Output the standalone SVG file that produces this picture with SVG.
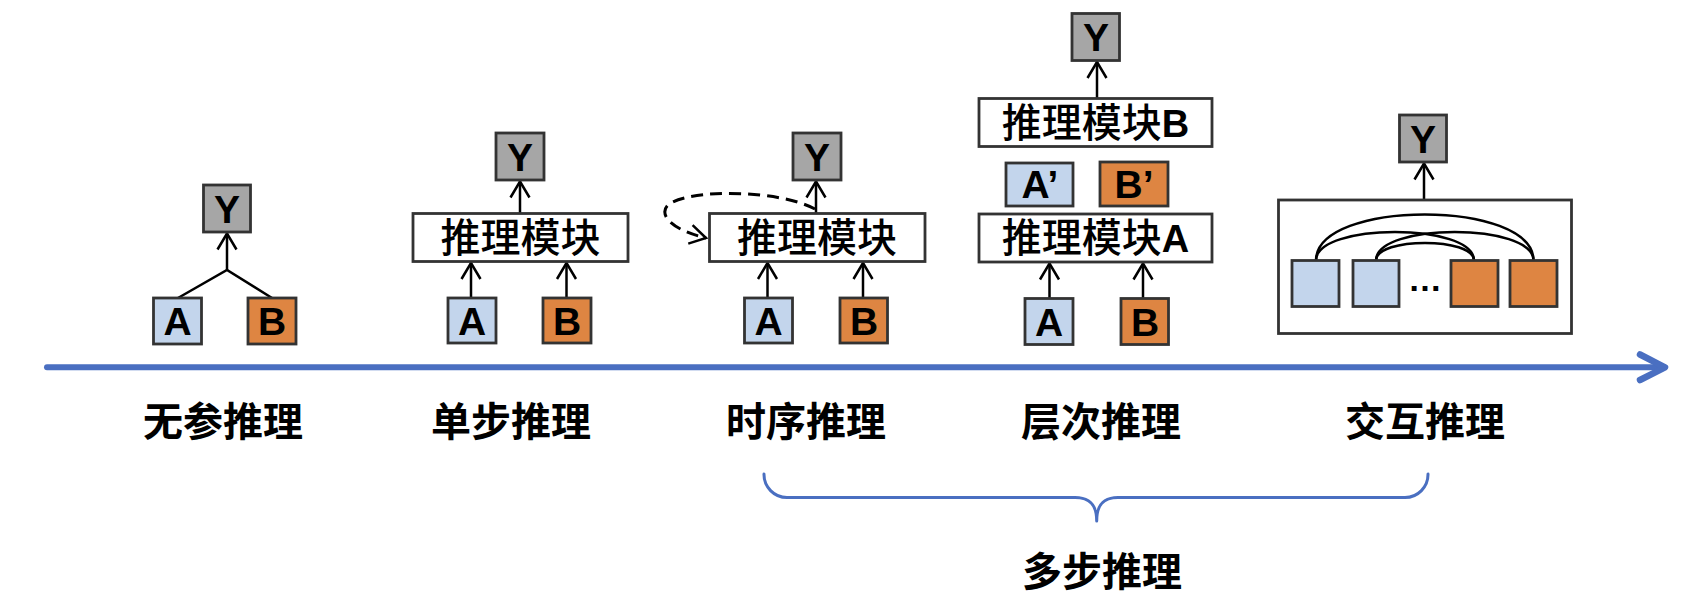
<svg xmlns="http://www.w3.org/2000/svg" width="1696" height="610" viewBox="0 0 1696 610">
<defs>
<style>
.box{stroke:#333333;stroke-width:2.8}
.ya{fill:#A6A6A6}
.ba{fill:#C3D5EC}
.or{fill:#DE8542}
.mod{fill:#FFFFFF}
.ltr{font-family:"Liberation Sans",Arial,sans-serif;font-weight:700;font-size:39px;fill:#000;text-anchor:middle}
.mt{font-family:"Noto Sans CJK SC","Liberation Sans",sans-serif;font-weight:500;font-size:40px;fill:#000;text-anchor:middle}
.lab{font-family:"Noto Sans CJK SC",sans-serif;font-weight:700;font-size:40px;fill:#000;text-anchor:middle}
.ln{stroke:#000;stroke-width:2.5;fill:none}
.arr{stroke:#000;stroke-width:2.5;fill:none;marker-end:url(#ah)}
.dash{stroke:#000;stroke-width:3;fill:none;stroke-dasharray:12 7;marker-end:url(#ah)}
.blue{stroke:#4A6FC1;fill:none;stroke-linecap:round;stroke-linejoin:round}
</style>
<marker id="ah" markerUnits="userSpaceOnUse" orient="auto" overflow="visible" viewBox="-20 -12 22 24" markerWidth="22" markerHeight="24" refX="0" refY="0">
<path d="M -16 -9.5 L 0 0 L -16 9.5" fill="none" stroke="#000" stroke-width="2.5"/>
</marker>
</defs>

<g id="axis">
<line class="blue" x1="47" y1="367.3" x2="1664" y2="367.3" stroke-width="6"/>
<path class="blue" d="M 1640 354.5 L 1665 367.3 L 1640 380" stroke-width="6.5"/>
</g>

<g id="connectors">
<polyline class="ln" points="178,298 227,270 272,298"/>
<line class="arr" x1="227" y1="271" x2="227" y2="233.5"/>
<line class="arr" x1="471" y1="298" x2="471" y2="263"/>
<line class="arr" x1="566.5" y1="298" x2="566.5" y2="263"/>
<line class="arr" x1="520" y1="213.5" x2="520" y2="181.5"/>
<line class="arr" x1="767.5" y1="298" x2="767.5" y2="263"/>
<line class="arr" x1="863" y1="298" x2="863" y2="263"/>
<line class="arr" x1="816" y1="213.5" x2="816" y2="181.5"/>
<path class="dash" d="M 815 209 C 780 190, 690 188, 668 205 C 658 215, 672 230, 706 238"/>
<line class="arr" x1="1049.5" y1="298.5" x2="1049.5" y2="263.5"/>
<line class="arr" x1="1143" y1="298.5" x2="1143" y2="263.5"/>
<line class="arr" x1="1097" y1="98.5" x2="1097" y2="62"/>
<line class="arr" x1="1424" y1="200" x2="1424" y2="163.5"/>
</g>

<g id="n1-Y"><rect class="box ya" x="203.5" y="185" width="47" height="47"/><text class="ltr" x="227" y="222.5">Y</text></g>
<g id="n1-A"><rect class="box ba" x="153.5" y="298" width="48" height="46"/><text class="ltr" x="177.5" y="335">A</text></g>
<g id="n1-B"><rect class="box or" x="248" y="298" width="48" height="46"/><text class="ltr" x="272" y="335">B</text></g>

<g id="n2-Y"><rect class="box ya" x="496" y="133" width="48" height="47"/><text class="ltr" x="520" y="170.5">Y</text></g>
<g id="n2-M"><rect class="box mod" x="413" y="213.5" width="215" height="48"/><text class="mt" x="520.5" y="251.5">推理模块</text></g>
<g id="n2-A"><rect class="box ba" x="448" y="298" width="48" height="45"/><text class="ltr" x="472" y="334.5">A</text></g>
<g id="n2-B"><rect class="box or" x="543" y="298" width="48" height="45"/><text class="ltr" x="567" y="334.5">B</text></g>

<g id="n3-Y"><rect class="box ya" x="793" y="133" width="48" height="47"/><text class="ltr" x="817" y="170.5">Y</text></g>
<g id="n3-M"><rect class="box mod" x="709.5" y="213.5" width="215.5" height="48"/><text class="mt" x="817" y="251.5">推理模块</text></g>
<g id="n3-A"><rect class="box ba" x="744.5" y="298" width="48" height="45"/><text class="ltr" x="768.5" y="334.5">A</text></g>
<g id="n3-B"><rect class="box or" x="840" y="298" width="47.5" height="45"/><text class="ltr" x="864" y="334.5">B</text></g>

<g id="n4-Y"><rect class="box ya" x="1072" y="13.5" width="47.5" height="47"/><text class="ltr" x="1096" y="51">Y</text></g>
<g id="n4-MB"><rect class="box mod" x="979" y="98.5" width="233" height="48"/><text class="mt" x="1095.5" y="136.5">推理模块<tspan font-family="Liberation Sans" font-weight="700" font-size="38">B</tspan></text></g>
<g id="n4-A2"><rect class="box ba" x="1006" y="163" width="67" height="43"/><text class="ltr" x="1040" y="198">A’</text></g>
<g id="n4-B2"><rect class="box or" x="1100" y="162" width="68" height="44"/><text class="ltr" x="1134" y="197.5">B’</text></g>
<g id="n4-MA"><rect class="box mod" x="979" y="214" width="233" height="48"/><text class="mt" x="1095.5" y="252">推理模块<tspan font-family="Liberation Sans" font-weight="700" font-size="38">A</tspan></text></g>
<g id="n4-A"><rect class="box ba" x="1025" y="298.5" width="48" height="46"/><text class="ltr" x="1049" y="335.5">A</text></g>
<g id="n4-B"><rect class="box or" x="1121" y="298.5" width="47.5" height="46"/><text class="ltr" x="1145" y="335.5">B</text></g>

<g id="n5-Y"><rect class="box ya" x="1399.5" y="115" width="47" height="47"/><text class="ltr" x="1423" y="152.5">Y</text></g>
<g id="n5-C">
<rect class="box" fill="#FFFFFF" x="1278.5" y="200" width="293" height="133.5"/>
<path class="ln" d="M 1316 260.5 C 1316 199, 1533.5 199, 1533.5 260.5"/>
<path class="ln" d="M 1316 260.5 C 1316 222.5, 1474 222.5, 1474 260.5"/>
<path class="ln" d="M 1376 260.5 C 1376 222.5, 1533.5 222.5, 1533.5 260.5"/>
<path class="ln" d="M 1376 260.5 C 1376 237, 1474 237, 1474 260.5"/>
<rect class="box ba" x="1292" y="260.5" width="47" height="46"/>
<rect class="box ba" x="1353" y="260.5" width="46" height="46"/>
<rect class="box or" x="1451" y="260.5" width="47" height="46"/>
<rect class="box or" x="1510" y="260.5" width="47" height="46"/>
<text x="1425" y="291" font-family="Liberation Sans,sans-serif" font-weight="700" font-size="34" text-anchor="middle" fill="#000">…</text>
</g>

<g id="labels">
<text class="lab" x="223" y="436">无参推理</text>
<text class="lab" x="511" y="436">单步推理</text>
<text class="lab" x="806" y="436">时序推理</text>
<text class="lab" x="1101" y="436">层次推理</text>
<text class="lab" x="1425" y="436">交互推理</text>
</g>

<g id="brace">
<path class="blue" stroke-width="3" d="M 764 474 A 23 23 0 0 0 787 497.5 L 1075 497.5 C 1090 497.5, 1096.7 505, 1096.7 521 C 1096.7 505, 1103 497.5, 1118 497.5 L 1405 497.5 A 23 23 0 0 0 1428 474"/>
<text class="lab" x="1102" y="586">多步推理</text>
</g>
</svg>
